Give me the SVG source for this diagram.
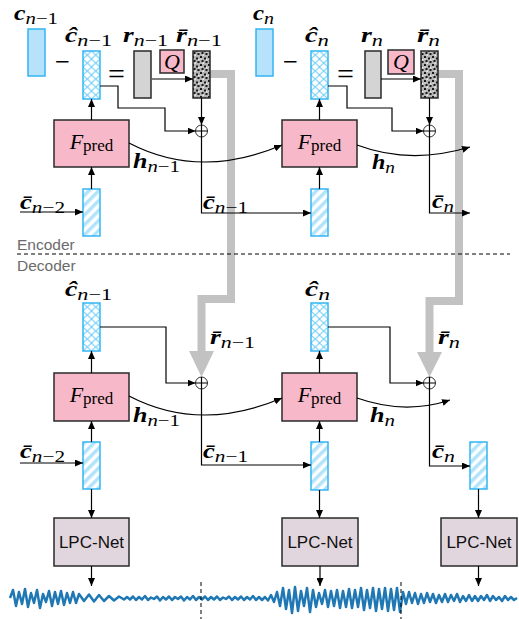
<svg xmlns="http://www.w3.org/2000/svg" width="519" height="619" viewBox="0 0 519 619">
<style>
.lbl{font-family:"Liberation Serif","DejaVu Serif","Times New Roman",serif;fill:#000}
.b{font-family:"Liberation Serif","DejaVu Serif",serif;font-style:italic;font-weight:bold;font-size:20px}
.i{font-family:"Liberation Serif","DejaVu Serif",serif;font-style:italic;font-weight:normal;font-size:16px}
.u{font-family:"Liberation Serif","DejaVu Serif",serif;font-style:normal;font-weight:normal;font-size:16px}
.fp{font-family:"Liberation Serif","DejaVu Serif",serif;font-style:italic;font-weight:normal;font-size:22px}
.pred{font-family:"Liberation Serif","DejaVu Serif",serif;font-style:normal;font-weight:normal;font-size:17px}
.sym{font-family:"Liberation Serif","DejaVu Serif",serif;font-weight:normal}
.sans{font-family:"Liberation Sans",Arial,sans-serif}
.ed{font-size:15.5px;fill:#6b6b6b}
.lpc{font-size:17px;fill:#111}
.pink{fill:#f7b9c9;stroke:#2a2a2a;stroke-width:1.5}
.lpcbox{fill:#e2d6de;stroke:#2a2a2a;stroke-width:1.5}
.plain{fill:#b6e3fb;stroke:#33b5f3;stroke-width:1.5}
.cross{fill:url(#xh);stroke:#33b5f3;stroke-width:1.5}
.hatch{fill:url(#st);stroke:#33b5f3;stroke-width:1.5}
.grayb{fill:#d4d4d4;stroke:#2a2a2a;stroke-width:1.5}
.dots{fill:url(#dt);stroke:#2a2a2a;stroke-width:1.5}
.ln{fill:none;stroke:#000;stroke-width:1.2}
.arr{fill:none;stroke:#000;stroke-width:1.2;marker-end:url(#ah)}
.thick{fill:none;stroke:#c2c2c2;stroke-width:8;stroke-linejoin:miter}
.thickhead{fill:#c2c2c2}
.op{fill:#fff;stroke:#000;stroke-width:0.8}
.dash{fill:none;stroke:#000;stroke-width:1;stroke-dasharray:4 3}
</style>
<defs>
<marker id="ah" viewBox="0 0 8 7" refX="8" refY="3.5" markerWidth="8" markerHeight="7" markerUnits="userSpaceOnUse" orient="auto">
<path d="M0,0 L8,3.5 L0,7 z" fill="#000"/>
</marker>
<pattern id="xh" patternUnits="objectBoundingBox" width="0.5" height="0.16667">
<rect width="8.5" height="8" fill="#fff"/>
<path d="M0,0 L8.5,8 M8.5,0 L0,8" stroke="#5cc6f7" stroke-width="0.9" fill="none"/>
</pattern>
<pattern id="st" patternUnits="userSpaceOnUse" width="7" height="7" patternTransform="rotate(45)">
<rect width="7" height="7" fill="#fff"/>
<rect width="3.5" height="7" fill="#b3e3fa"/>
</pattern>
<pattern id="dt" patternUnits="userSpaceOnUse" width="8" height="8">
<rect width="8" height="8" fill="#b4b4b4"/>
<rect x="0" y="0" width="2" height="2" fill="#1a1a1a"/>
<rect x="4" y="1.5" width="2" height="2" fill="#1a1a1a"/>
<rect x="1.5" y="4" width="2" height="2" fill="#1a1a1a"/>
<rect x="5.5" y="5" width="2" height="2" fill="#1a1a1a"/>
<rect x="2.5" y="6.5" width="1.5" height="1.5" fill="#ececec"/>
<rect x="6" y="3" width="1.5" height="1.5" fill="#ececec"/>
<rect x="0.5" y="2.5" width="1.2" height="1.2" fill="#ececec"/>
</pattern>
</defs>
<rect width="519" height="619" fill="#fff"/>

<!-- thick gray quantized-residual transmission arrows -->
<g id="transmission">
<path class="thick" d="M210,74 H231 V299 H201.5 V352"/>
<polygon class="thickhead" points="189,351 214,351 201.5,377"/>
<path class="thick" d="M438,74 H459 V301 H429.5 V353"/>
<polygon class="thickhead" points="417,352 442,352 429.5,377"/>
</g>

<!-- Encoder column n-1 -->
<g id="enc-c-nm1">
<rect class="plain" x="28" y="29" width="17" height="47"/>
<text class="lbl" x="14" y="20" textLength="44" lengthAdjust="spacingAndGlyphs"><tspan class="b">c</tspan><tspan class="i" dy="4">n</tspan><tspan class="u">−1</tspan></text>
</g>
<g id="enc-minus-nm1"><text class="lbl sym" x="55" y="71" font-size="28" textLength="15" lengthAdjust="spacingAndGlyphs">−</text></g>
<g id="enc-chat-nm1">
<rect class="cross" x="83" y="51" width="17" height="48"/>
<text class="lbl" x="65" y="42" textLength="47" lengthAdjust="spacingAndGlyphs"><tspan class="b">ĉ</tspan><tspan class="i" dy="4">n</tspan><tspan class="u">−1</tspan></text>
</g>
<g id="enc-eq-nm1"><text class="lbl sym" x="108" y="84" font-size="30">=</text></g>
<g id="enc-r-nm1">
<rect class="grayb" x="134" y="51" width="17" height="47"/>
<text class="lbl" x="123" y="42" textLength="45" lengthAdjust="spacingAndGlyphs"><tspan class="b">r</tspan><tspan class="i" dy="4">n</tspan><tspan class="u">−1</tspan></text>
</g>
<g id="enc-Q-nm1">
<rect class="pink" x="160" y="50" width="24" height="23"/>
<text class="lbl fp" x="172" y="69" font-size="22" text-anchor="middle">Q</text>
</g>
<g id="enc-rbar-nm1">
<rect class="dots" x="193" y="51" width="17" height="47"/>
<text class="lbl" x="176" y="42" textLength="46" lengthAdjust="spacingAndGlyphs"><tspan class="b">r̄</tspan><tspan class="i" dy="4">n</tspan><tspan class="u">−1</tspan></text>
</g>
<g id="enc-sum-nm1">
<circle class="op" cx="201.5" cy="131" r="6"/>
<path class="ln" d="M195.5,131 H207.5 M201.5,125 V137" stroke-width="0.8"/>
</g>
<g id="enc-F-nm1">
<rect class="pink" x="54" y="120" width="75" height="47"/>
<text class="lbl" x="91.5" y="149" text-anchor="middle"><tspan class="fp">F</tspan><tspan class="pred" dy="2">pred</tspan></text>
</g>
<g id="enc-cbar-nm2">
<rect class="hatch" x="83" y="189" width="17" height="47"/>
</g>

<!-- Encoder column n -->
<g id="enc-c-n">
<rect class="plain" x="256" y="29" width="17" height="47"/>
<text class="lbl" x="253" y="20" textLength="21" lengthAdjust="spacingAndGlyphs"><tspan class="b">c</tspan><tspan class="i" dy="4">n</tspan></text>
</g>
<g id="enc-minus-n"><text class="lbl sym" x="283" y="71" font-size="28" textLength="15" lengthAdjust="spacingAndGlyphs">−</text></g>
<g id="enc-chat-n">
<rect class="cross" x="311" y="51" width="17" height="48"/>
<text class="lbl" x="305" y="42" textLength="24" lengthAdjust="spacingAndGlyphs"><tspan class="b">ĉ</tspan><tspan class="i" dy="4">n</tspan></text>
</g>
<g id="enc-eq-n"><text class="lbl sym" x="337" y="84" font-size="30">=</text></g>
<g id="enc-r-n">
<rect class="grayb" x="365" y="51" width="16" height="47"/>
<text class="lbl" x="361" y="42" textLength="22" lengthAdjust="spacingAndGlyphs"><tspan class="b">r</tspan><tspan class="i" dy="4">n</tspan></text>
</g>
<g id="enc-Q-n">
<rect class="pink" x="388" y="50" width="26" height="24"/>
<text class="lbl fp" x="401" y="69" font-size="22" text-anchor="middle">Q</text>
</g>
<g id="enc-rbar-n">
<rect class="dots" x="421" y="51" width="17" height="47"/>
<text class="lbl" x="417" y="42" textLength="23" lengthAdjust="spacingAndGlyphs"><tspan class="b">r̄</tspan><tspan class="i" dy="4">n</tspan></text>
</g>
<g id="enc-sum-n">
<circle class="op" cx="429.5" cy="131" r="6"/>
<path class="ln" d="M423.5,131 H435.5 M429.5,125 V137" stroke-width="0.8"/>
</g>
<g id="enc-F-n">
<rect class="pink" x="282" y="120" width="75" height="47"/>
<text class="lbl" x="319.5" y="149" text-anchor="middle"><tspan class="fp">F</tspan><tspan class="pred" dy="2">pred</tspan></text>
</g>
<g id="enc-cbar-nm1">
<rect class="hatch" x="311" y="189" width="17" height="47"/>
</g>

<!-- Encoder / Decoder separator -->
<g id="separator">
<text class="sans ed" x="17" y="250">Encoder</text>
<line class="dash" x1="17" y1="254" x2="510" y2="254"/>
<text class="sans ed" x="17" y="271">Decoder</text>
</g>

<!-- Decoder column n-1 -->
<g id="dec-chat-nm1">
<rect class="cross" x="83" y="303" width="17" height="48"/>
<text class="lbl" x="65" y="296" textLength="47" lengthAdjust="spacingAndGlyphs"><tspan class="b">ĉ</tspan><tspan class="i" dy="4">n</tspan><tspan class="u">−1</tspan></text>
</g>
<g id="dec-sum-nm1">
<circle class="op" cx="201.5" cy="383" r="6"/>
<path class="ln" d="M195.5,383 H207.5 M201.5,377 V389" stroke-width="0.8"/>
</g>
<g id="dec-F-nm1">
<rect class="pink" x="54" y="373" width="75" height="48"/>
<text class="lbl" x="91.5" y="402" text-anchor="middle"><tspan class="fp">F</tspan><tspan class="pred" dy="2">pred</tspan></text>
</g>
<g id="dec-cbar-nm2">
<rect class="hatch" x="83" y="442" width="17" height="47"/>
</g>
<g id="dec-lpc-nm1">
<rect class="lpcbox" x="54" y="518" width="75" height="48"/>
<text class="sans lpc" x="91.5" y="548" text-anchor="middle">LPC-Net</text>
</g>

<!-- Decoder column n -->
<g id="dec-chat-n">
<rect class="cross" x="311" y="303" width="17" height="48"/>
<text class="lbl" x="305" y="296" textLength="25" lengthAdjust="spacingAndGlyphs"><tspan class="b">ĉ</tspan><tspan class="i" dy="4">n</tspan></text>
</g>
<g id="dec-sum-n">
<circle class="op" cx="429.5" cy="383" r="6"/>
<path class="ln" d="M423.5,383 H435.5 M429.5,377 V389" stroke-width="0.8"/>
</g>
<g id="dec-F-n">
<rect class="pink" x="282" y="373" width="75" height="48"/>
<text class="lbl" x="319.5" y="402" text-anchor="middle"><tspan class="fp">F</tspan><tspan class="pred" dy="2">pred</tspan></text>
</g>
<g id="dec-cbar-nm1">
<rect class="hatch" x="311" y="442" width="17" height="48"/>
</g>
<g id="dec-lpc-n">
<rect class="lpcbox" x="282" y="518" width="76" height="48"/>
<text class="sans lpc" x="320" y="548" text-anchor="middle">LPC-Net</text>
</g>
<g id="dec-cbar-n">
<rect class="hatch" x="470" y="442" width="17" height="47"/>
</g>
<g id="dec-lpc-np1">
<rect class="lpcbox" x="441" y="518" width="76" height="48"/>
<text class="sans lpc" x="479" y="548" text-anchor="middle">LPC-Net</text>
</g>

<!-- transmission labels -->
<g id="labels-rbar">
<text class="lbl" x="210" y="344" textLength="45" lengthAdjust="spacingAndGlyphs"><tspan class="b">r̄</tspan><tspan class="i" dy="4">n</tspan><tspan class="u">−1</tspan></text>
<text class="lbl" x="438" y="344" textLength="22" lengthAdjust="spacingAndGlyphs"><tspan class="b">r̄</tspan><tspan class="i" dy="4">n</tspan></text>
</g>

<!-- connectors -->
<g id="connectors">
<path class="arr" d="M152,79 H193"/>
<path class="arr" d="M201.5,98 V125"/>
<path class="arr" d="M100,86 H118 V108 H165 V131 H195.5"/>
<path class="arr" d="M91.5,120 V99"/>
<path class="arr" d="M91.5,189 V167"/>
<path class="arr" d="M20,212 H83"/>
<path class="arr" d="M201.5,137 V213 H311"/>
<path class="arr" d="M129,143 Q200,180 282,145"/>
<path class="arr" d="M381,79 H421"/>
<path class="arr" d="M429.5,98 V125"/>
<path class="arr" d="M328,86 H347 V108 H392 V131 H423.5"/>
<path class="arr" d="M319.5,120 V99"/>
<path class="arr" d="M319.5,189 V167"/>
<path class="arr" d="M429.5,137 V213 H470"/>
<path class="arr" d="M357,145 Q410,165 470,147"/>
<path class="arr" d="M100,327 H166 V383 H195.5"/>
<path class="arr" d="M91.5,373 V351"/>
<path class="arr" d="M91.5,442 V421"/>
<path class="arr" d="M20,463 H83"/>
<path class="arr" d="M91.5,489 V518"/>
<path class="arr" d="M91.5,566 V586"/>
<path class="arr" d="M201.5,389 V465 H311"/>
<path class="arr" d="M129,396 Q200,433 282,398"/>
<path class="arr" d="M328,327 H390 V383 H423.5"/>
<path class="arr" d="M319.5,373 V351"/>
<path class="arr" d="M319.5,442 V421"/>
<path class="arr" d="M319.5,490 V518"/>
<path class="arr" d="M320,566 V586"/>
<path class="arr" d="M429.5,389 V466 H470"/>
<path class="arr" d="M357,398 Q405,415 450,400"/>
<path class="arr" d="M478.5,489 V518"/>
<path class="arr" d="M478.5,566 V586"/>
</g>

<!-- connector labels -->
<g id="connector-labels">
<text class="lbl" x="133" y="168" textLength="47" lengthAdjust="spacingAndGlyphs"><tspan class="b">h</tspan><tspan class="i" dy="4">n</tspan><tspan class="u">−1</tspan></text>
<text class="lbl" x="372" y="169" textLength="23" lengthAdjust="spacingAndGlyphs"><tspan class="b">h</tspan><tspan class="i" dy="4">n</tspan></text>
<text class="lbl" x="20" y="209" textLength="45" lengthAdjust="spacingAndGlyphs"><tspan class="b">c̄</tspan><tspan class="i" dy="4">n</tspan><tspan class="u">−2</tspan></text>
<text class="lbl" x="203" y="209" textLength="45" lengthAdjust="spacingAndGlyphs"><tspan class="b">c̄</tspan><tspan class="i" dy="4">n</tspan><tspan class="u">−1</tspan></text>
<text class="lbl" x="432" y="208" textLength="22" lengthAdjust="spacingAndGlyphs"><tspan class="b">c̄</tspan><tspan class="i" dy="4">n</tspan></text>
<text class="lbl" x="133" y="422" textLength="47" lengthAdjust="spacingAndGlyphs"><tspan class="b">h</tspan><tspan class="i" dy="4">n</tspan><tspan class="u">−1</tspan></text>
<text class="lbl" x="370" y="422" textLength="25" lengthAdjust="spacingAndGlyphs"><tspan class="b">h</tspan><tspan class="i" dy="4">n</tspan></text>
<text class="lbl" x="20" y="458" textLength="45" lengthAdjust="spacingAndGlyphs"><tspan class="b">c̄</tspan><tspan class="i" dy="4">n</tspan><tspan class="u">−2</tspan></text>
<text class="lbl" x="203" y="458" textLength="45" lengthAdjust="spacingAndGlyphs"><tspan class="b">c̄</tspan><tspan class="i" dy="4">n</tspan><tspan class="u">−1</tspan></text>
<text class="lbl" x="432" y="458" textLength="23" lengthAdjust="spacingAndGlyphs"><tspan class="b">c̄</tspan><tspan class="i" dy="4">n</tspan></text>
</g>

<!-- output waveform -->
<g id="waveform">
<polyline fill="none" stroke="#1f77b4" stroke-width="2.5" stroke-linejoin="round" points="10,598 13,590 16,606 19,592 22,604 25,589 28,607 31,593 34,603 37,590 40,608 43,594 46,602 49,591 52,606 55,592 58,604 61,591 64,605 67,593 70,603 73,592 76,603 79,594 84,601 89,594.5 94,601.5 99,595 104,601 109,596 114,600.5 119,596.5 124,599.5 127,597 130,599.5 133,596.5 136,600 139,597 142,599.5 145,596 148,600 151,597.5 154,599 157,596.5 160,600.5 163,597 166,599.5 169,596.5 172,600 175,597 178,599 181,596.5 184,600.5 187,597 190,599.5 193,596 196,600 199,597 202,599.5 205,596.5 208,600 211,597 214,599.5 217,596.5 220,600 223,597.5 226,599 229,596.5 232,600 235,597 238,599.5 241,596.5 244,600 247,597 250,599.5 253,596 256,600 259,597 262,600 265,597 268,600.5 271,595 274,602 277,592 280,606 283,588 286,609 289,590 292,613 295,587 298,611 301,591 304,606 307,588 310,612 313,590 316,607 319,593 322,604 325,590 328,607 331,591 334,606 337,590 340,608 343,591 346,607 349,589 352,608 355,590 358,607 361,588 364,610 367,590 370,608 373,588 376,611 379,589 382,609 385,588 388,611 391,589 394,610 397,588 400,612 403,592 406,604 409,592 412,603 415,593 418,604 421,594 424,603 427,593 430,602 433,594 436,603 439,595 442,602 445,594 448,602 451,595 454,601 457,594 460,602 463,596 466,601 469,595 472,601 475,596 478,601 481,596 484,600 487,595 490,601 493,596 496,600 499,597 502,601 505,596 508,600 511,597 514,600 517,598"/>
<line class="dash" x1="201" y1="582" x2="201" y2="619"/>
<line class="dash" x1="401" y1="582" x2="401" y2="619"/>
</g>
</svg>
